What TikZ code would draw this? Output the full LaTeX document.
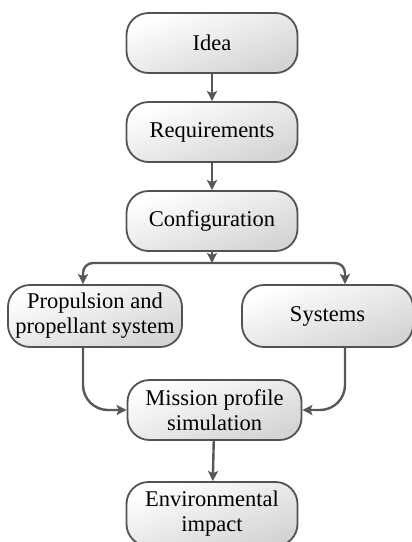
\documentclass[tikz,border=0pt]{standalone}
\usepackage{fontspec}
\setmainfont{Liberation Serif}
\usetikzlibrary{arrows.meta}

\tikzset{
  stagebox/.style={draw=black!68, line width=1.8pt, rounded corners=22pt,
    top color=white, bottom color=black!17, shading angle=20,
    minimum width=171pt, minimum height=60pt, align=center, inner sep=2pt,
    font=\fontsize{22.5}{25}\selectfont},
  flow/.style={->, draw=black!66, line width=2.4pt}
}

\begin{document}
\begin{tikzpicture}[x=1pt, y=-1pt, >={Stealth[length=10pt, width=10pt, inset=2pt]}]
  \clip (0, 0) rectangle (412, 542);
  \useasboundingbox (0, 0) rectangle (412, 542);

  \node[stagebox] (idea) at (212, 43) {Idea};
  \node[stagebox] (req) at (212, 132) {Requirements};
  \node[stagebox] (conf) at (212, 221) {Configuration};
  \node[stagebox, minimum width=174pt, minimum height=62pt] (prop) at (95, 316) {Propulsion and\\propellant system};
  \node[stagebox, minimum height=62pt] (sys) at (327.5, 316) {Systems};
  \node[stagebox, minimum width=174pt] (sim) at (214.5, 410) {Mission profile\\simulation};
  \node[stagebox, minimum height=64pt] (env) at (212, 514) {Environmental\\impact};

  \coordinate (branch) at (212, 263);

  \draw[flow] (idea) -- (req);
  \draw[flow] (req) -- (conf);
  \draw[flow] (conf) -- (branch);
  \draw[flow, rounded corners=10pt] (branch) -| ([xshift=-12pt]prop.north);
  \draw[flow, rounded corners=10pt] (branch) -| ([xshift=17.5pt]sys.north);
  \draw[flow, rounded corners=25pt] ([xshift=-12pt]prop.south) |- (sim.west);
  \draw[flow, rounded corners=25pt] ([xshift=17.5pt]sys.south) |- (sim.east);
  \draw[flow] (sim) -- (env);
\end{tikzpicture}
\end{document}
